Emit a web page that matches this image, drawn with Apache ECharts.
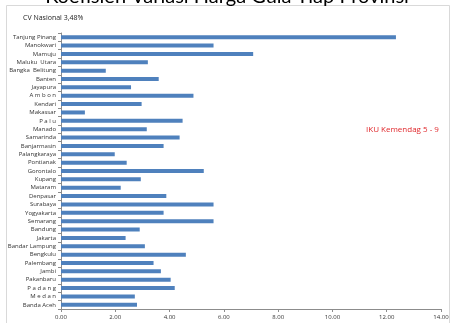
<!DOCTYPE html>
<html>
<head>
<meta charset="utf-8">
<script src="https://cdn.jsdelivr.net/npm/echarts@6/dist/echarts.min.js"></script>
<style>
  html, body { margin: 0; padding: 0; background: #fff; }
  #main { width: 454px; height: 323px; }
</style>
</head>
<body>
<div id="main"></div>
<script>
// provinsi (top to bottom)
const cities = [
  'Tanjung Pinang', 'Manokwari', 'Mamuju', 'Maluku  Utara', 'Bangka  Belitung',
  'Banten', 'Jayapura', 'A m b o n', 'Kendari', 'Makassar', 'P a l u', 'Manado',
  'Samarinda', 'Banjarmasin', 'Palangkaraya', 'Pontianak', 'Gorontalo', 'Kupang',
  'Mataram', 'Denpasar', 'Surabaya', 'Yogyakarta', 'Semarang', 'Bandung', 'Jakarta',
  'Bandar Lampung', 'Bengkulu', 'Palembang', 'Jambi', 'Pakanbaru', 'P a d a n g',
  'M e d a n', 'Banda Aceh'
];
// koefisien variasi (%)
const cvValues = [
  12.34, 5.62, 7.08, 3.2, 1.65,
  3.6, 2.58, 4.88, 2.97, 0.88, 4.48, 3.16,
  4.37, 3.78, 1.98, 2.42, 5.26, 2.94,
  2.2, 3.88, 5.62, 3.78, 5.62, 2.9, 2.38,
  3.09, 4.6, 3.41, 3.68, 4.04, 4.19,
  2.72, 2.8
];

const chart = echarts.init(document.getElementById('main'));
const option = {
  animation: false,
  backgroundColor: '#fff',
  graphic: [
    {
      type: 'rect', z: -1,
      shape: { x: 6.5, y: 5.5, width: 443, height: 330 },
      style: { fill: 'none', stroke: '#d9d9d9', lineWidth: 1 }
    },
    {
      type: 'text', left: 'center', top: -13,
      style: { text: 'Koefisien Variasi Harga Gula Tiap Provinsi', fontSize: 20, fill: '#000', fontFamily: 'Lato' }
    },
    {
      type: 'text', left: 23, top: 14,
      style: { text: 'CV Nasional 3,48%', fontSize: 7, fill: '#222', fontFamily: 'Open Sans' }
    },
    {
      type: 'text', left: 366, top: 126,
      style: { text: 'IKU Kemendag 5 - 9', fontSize: 8, fill: '#e0282c', fontFamily: 'Open Sans' }
    }
  ],
  grid: { left: 61, right: 13, top: 33, bottom: 14, containLabel: false },
  xAxis: {
    type: 'value', min: 0, max: 14, interval: 2,
    axisLine: { show: true, lineStyle: { color: '#8c8c8c' } },
    axisTick: { show: true, length: 3, lineStyle: { color: '#8c8c8c' } },
    splitLine: { show: false },
    axisLabel: {
      fontSize: 6, color: '#333', margin: 5, fontFamily: 'Open Sans',
      formatter: v => v.toFixed(2)
    }
  },
  yAxis: {
    type: 'category', data: cities, inverse: true,
    axisLine: { show: true, lineStyle: { color: '#8c8c8c' } },
    axisTick: { show: true, length: 3, lineStyle: { color: '#8c8c8c' } },
    axisLabel: { fontSize: 6, color: '#333', margin: 5, interval: 0, fontFamily: 'Open Sans' }
  },
  series: [{
    type: 'bar', data: cvValues, barWidth: 4,
    itemStyle: { color: '#4f81bd' }
  }]
};
chart.setOption(option);
</script>
</body>
</html>
